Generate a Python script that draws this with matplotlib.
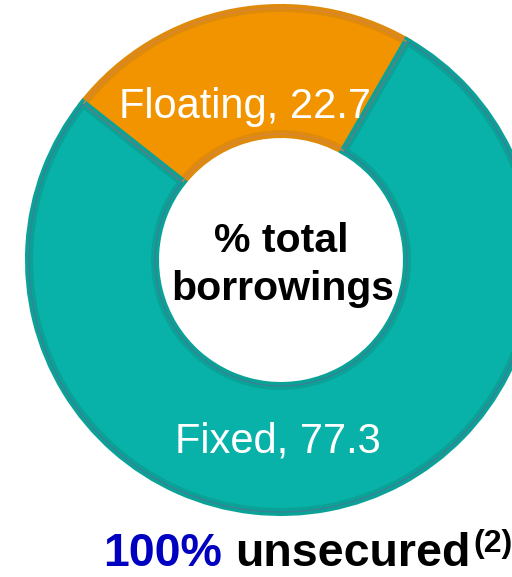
import matplotlib

matplotlib.use('Agg')
import matplotlib.pyplot as plt

# borrowing mix, % of total
labels = ['Floating', 'Fixed']
values = [22.7, 77.3]
colors = ['#F29400', '#08B2A8']
edge_colors = ['#DE8A0A', '#0AA296']
outline_colors = ['#D9843F', '#3F7D98']

plt.rcParams['font.family'] = ['Liberation Sans', 'DejaVu Sans']

fig = plt.figure(figsize=(5.12, 5.77), dpi=100)
ax = fig.add_axes([0, 0, 1, 1])

cx, cy, r = 281, 260, 252
wedges, _ = ax.pie(values, colors=colors, startangle=-60, counterclock=False,
                   radius=r, center=(cx, cy),
                   wedgeprops=dict(width=r / 2, linewidth=5.8))
# darker band on the inside of every segment
for w, ec in zip(wedges, edge_colors):
    w.set_edgecolor(ec)
    w.set_clip_path(w)

# thin outline on each segment
rims, _ = ax.pie(values, startangle=-60, counterclock=False, radius=r, center=(cx, cy),
                 wedgeprops=dict(width=r / 2, fill=False, linewidth=0.9))
for w, oc in zip(rims, outline_colors):
    w.set_edgecolor(oc)

ax.set_xlim(0, 512)
ax.set_ylim(577, 0)
ax.axis('off')

# segment labels
label_pos = [(245, 118), (278, 452)]
for lab, val, (x, y) in zip(labels, values, label_pos):
    ax.text(x, y, f'{lab}, {val}', color='white', fontsize=30,
            ha='center', va='baseline')

ax.text(281, 252, '% total', fontsize=29.5, fontweight='bold', ha='center', va='baseline')
ax.text(283, 300, 'borrowings', fontsize=29.5, fontweight='bold', ha='center', va='baseline')

ax.text(103, 566, '100%', color='#0000C0', fontsize=33.5, fontweight='bold', va='baseline')
ax.text(235, 566, 'unsecured', color='black', fontsize=33.5, fontweight='bold', va='baseline')
ax.text(473, 552, '(2)', color='black', fontsize=23, fontweight='bold', va='baseline')

fig.savefig('out.png', dpi=100)
